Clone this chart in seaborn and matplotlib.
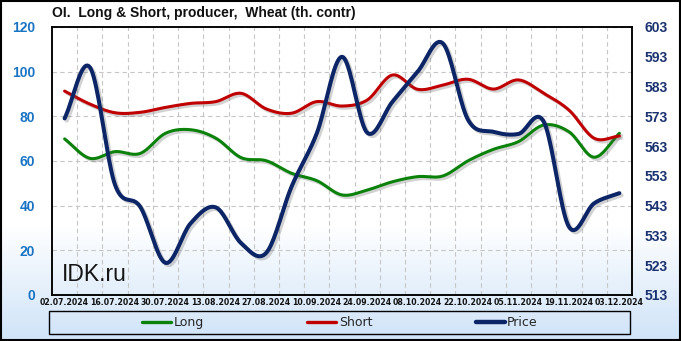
import numpy as np
import pandas as pd
import matplotlib
matplotlib.use("Agg")
import matplotlib.pyplot as plt
import seaborn as sns
from matplotlib import patheffects as pe
from matplotlib.patches import Rectangle
from matplotlib.lines import Line2D

# ---- data ----
dates = ["02.07.2024", "09.07.2024", "16.07.2024", "23.07.2024", "30.07.2024", "06.08.2024",
         "13.08.2024", "20.08.2024", "27.08.2024", "03.09.2024", "10.09.2024", "17.09.2024",
         "24.09.2024", "01.10.2024", "08.10.2024", "15.10.2024", "22.10.2024", "29.10.2024",
         "05.11.2024", "12.11.2024", "19.11.2024", "26.11.2024", "03.12.2024"]
long_vals = [69.9, 61.2, 64.2, 63.4, 72.4, 74.0, 70.2, 61.5, 60.1, 54.5, 51.2, 44.8,
             47.0, 50.7, 53.0, 53.3, 60.1, 65.2, 68.7, 76.1, 73.1, 61.7, 72.4]
short_vals = [91.3, 85.5, 81.6, 81.8, 84.0, 85.8, 86.6, 90.3, 83.3, 81.4, 86.6, 84.6,
              87.3, 98.5, 92.1, 94.0, 96.6, 92.2, 96.3, 90.3, 82.8, 70.2, 71.2]
price_vals = [572.3, 589.5, 550.0, 542.6, 523.8, 537.1, 542.4, 530.4, 527.2, 549.4, 567.3, 593.0,
              567.5, 577.9, 588.0, 597.5, 571.8, 567.8, 567.1, 571.2, 535.9, 543.8, 547.2]
left_ticks = [0, 20, 40, 60, 80, 100, 120]
right_ticks = [513, 523, 533, 543, 553, 563, 573, 583, 593, 603]
title = "OI.  Long & Short, producer,  Wheat (th. contr)"


def smooth(xs, ys, n=20):
    """Catmull-Rom rendering of a smoothed line through the given points."""
    xs = np.asarray(xs, float); ys = np.asarray(ys, float)
    P = np.column_stack([xs, ys])
    P = np.vstack([P[:1], P, P[-1:]])
    P[0] = 2 * P[1] - P[2]
    P[-1] = 2 * P[-2] - P[-3]
    out = []
    t = np.linspace(0, 1, n, endpoint=False)[:, None]
    for i in range(1, len(P) - 2):
        p0, p1, p2, p3 = P[i - 1], P[i], P[i + 1], P[i + 2]
        seg = 0.5 * ((2 * p1) + (-p0 + p2) * t + (2 * p0 - 5 * p1 + 4 * p2 - p3) * t ** 2
                     + (-p0 + 3 * p1 - 3 * p2 + p3) * t ** 3)
        out.append(seg)
    out.append(P[-2][None, :])
    S = np.vstack(out)
    return S[:, 0], S[:, 1]


sns.set_theme(style="white")
plt.rcParams['font.family'] = ['DejaVu Sans']

W, H = 681, 341
fig = plt.figure(figsize=(W / 100, H / 100), dpi=100)

# background gradient
bg = fig.add_axes([0, 0, 1, 1], zorder=-10)
g = np.ones((H, 1, 3))
top = np.array([1.0, 1.0, 1.0]); bot = np.array([0.81, 0.89, 0.975])
for r in range(H):
    f = max(0.0, (r - 225) / (H - 225))
    g[r, 0] = top * (1 - f) + bot * f
bg.imshow(g, aspect='auto', extent=[0, 1, 1, 0])
bg.set_axis_off()

ax = fig.add_axes([52 / W, 1 - 295 / H, 580 / W, 268 / H])
ax.set_facecolor('none')
ax2 = ax.twinx()
ax2.set_facecolor('none')

x = np.arange(len(dates))
shadow = [pe.SimpleLineShadow(offset=(1.6, -1.6), shadow_color='#606060', alpha=0.28), pe.Normal()]

for vals, col, lw in [(long_vals, '#0a820a', 2.2), (short_vals, '#c00000', 2.2)]:
    sx, sy = smooth(x, vals)
    sns.lineplot(x=sx, y=sy, ax=ax, color=col, linewidth=lw, sort=False,
                 path_effects=shadow, legend=False)
sx, sy = smooth(x, price_vals)
sns.lineplot(x=sx, y=sy, ax=ax2, color='#0b2566', linewidth=2.9, sort=False,
             path_effects=shadow, legend=False)

tick_font = dict(family='Liberation Sans', fontweight='bold', fontsize=10)
ax.set_xlim(-0.5, len(dates) - 0.5)
ax.set_ylim(0, 120)
ax2.set_ylim(513, 603)
ax.set_yticks(left_ticks)
ax2.set_yticks(right_ticks)
ax.set_xticks(x[::2])
ax.set_xticklabels(dates[::2], fontsize=5.6, fontweight='bold', color='#111111')
ax.set_xticks(np.arange(0.5, len(dates) - 1, 1), minor=True)
ax.set_yticklabels([str(v) for v in left_ticks], color='#1a74c4', **tick_font)
ax2.set_yticklabels([str(v) for v in right_ticks], color='#1b3270', **tick_font)
ax.tick_params(axis='y', length=0, pad=12)
ax2.tick_params(axis='y', length=0, pad=9)
ax.tick_params(axis='x', which='both', length=0, pad=2)
ax.grid(False)
ax2.grid(False)
ax.grid(True, axis='y', which='major', linestyle=(0, (4, 3)), color='#c6c6c6', linewidth=0.8)
ax.grid(True, axis='x', which='minor', linestyle=(0, (4, 3)), color='#c6c6c6', linewidth=0.8)
ax.set_xlabel(''); ax.set_ylabel(''); ax2.set_ylabel('')
for a in (ax, ax2):
    for s in a.spines.values():
        s.set_color('black'); s.set_linewidth(1.1); s.set_visible(True)

fig.text(52 / W, 1 - 13 / H, title, fontsize=10, fontweight='bold', family='Liberation Sans',
         color='#111111', ha='left', va='center')
ax.text(62 / W, 1 - 281 / H, "IDK.ru", transform=fig.transFigure, fontsize=16.5,
        family='Liberation Sans', color='#151515', ha='left', va='baseline')

# legend
fig.patches.append(Rectangle((49 / W, 1 - 334 / H), 581 / W, 23 / H, transform=fig.transFigure,
                             facecolor='none', edgecolor='black', linewidth=1.0))
handles = [Line2D([], [], color='#0a820a', lw=2.4), Line2D([], [], color='#c00000', lw=2.4),
           Line2D([], [], color='#0b2566', lw=3.2)]
fig.legend(handles, ['Long', 'Short', 'Price'], loc='center', bbox_to_anchor=(340 / W, 1 - 322.5 / H),
           ncol=3, frameon=False, fontsize=9, handlelength=2.3, handletextpad=0.2,
           columnspacing=8.3)

fig.patches.append(Rectangle((0.002, 0.003), 0.996, 0.994, transform=fig.transFigure,
                             facecolor='none', edgecolor='black', linewidth=1.5))

fig.savefig('out.png', dpi=100)
